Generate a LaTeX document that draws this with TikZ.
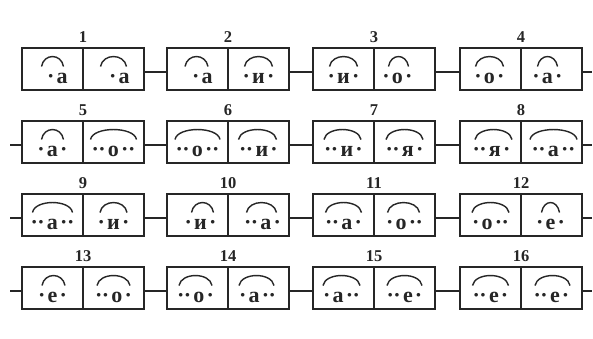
\documentclass[tikz,border=0pt]{standalone}
\usepackage{fontspec}
\setmainfont{Liberation Serif}
\definecolor{ink}{gray}{0.15}
\tikzset{
  cellbox/.style={draw=ink, line width=1.3pt, rectangle, minimum width=61pt, minimum height=42pt, inner sep=0pt, outer sep=0pt},
  numlbl/.style={font=\fontsize{16.5}{16.5}\selectfont\bfseries, text=ink, inner sep=0pt},
  lett/.style={font=\fontsize{22}{22}\selectfont\bfseries, text=ink, inner sep=0pt},
  arcline/.style={draw=ink, line width=1.4pt},
  conn/.style={draw=ink, line width=1.3pt}
}
\newcommand\dt{\makebox[6.8pt]{·}}
\newcommand\dd[1]{\ifcase#1\or\dt\or\dt\dt\or\dt\dt\dt\fi}
\newcommand\syl[3]{\dd{#1}\ifnum#1>0 \kern2.5pt\fi#2\ifnum#3>0 \kern2.5pt\fi\dd{#3}}
\newcommand\mkbox[4]{%
  \node[cellbox, anchor=north west] (#1a) at (#2,#3) {};
  \node[cellbox, anchor=north west] (#1b) at (#1a.north east) {};
  \node[numlbl] (#1n) at ([yshift=11pt]#1a.north east) {#4};
}
% #1 cell, #2 dots left, #3 letter, #4 dots right, #5 text dx, #6 arc width, #7 arc dx
\newcommand\mkcell[7]{%
  \node[lett, anchor=base] (#1t) at ([xshift=#5pt, yshift=-14pt]#1.center) {\syl{#2}{#3}{#4}};
  \draw[arcline] ([xshift=#7pt-#6pt/2, yshift=2.5pt]#1.center) .. controls +(80:13.5pt) and +(100:13.5pt) .. ([xshift=#7pt+#6pt/2, yshift=2.5pt]#1.center);
}
\begin{document}
\begin{tikzpicture}[x=1pt,y=-1pt]
\useasboundingbox[fill=white] (0,0) rectangle (593,338);
% boxes
\mkbox{b1}{22}{48}{1}\mkbox{b2}{167}{48}{2}\mkbox{b3}{313}{48}{3}\mkbox{b4}{460}{48}{4}
\mkbox{b5}{22}{121}{5}\mkbox{b6}{167}{121}{6}\mkbox{b7}{313}{121}{7}\mkbox{b8}{460}{121}{8}
\mkbox{b9}{22}{194}{9}\mkbox{b10}{167}{194}{10}\mkbox{b11}{313}{194}{11}\mkbox{b12}{460}{194}{12}
\mkbox{b13}{22}{267}{13}\mkbox{b14}{167}{267}{14}\mkbox{b15}{313}{267}{15}\mkbox{b16}{460}{267}{16}
% cells
\mkcell{b1a}{1}{а}{0}{5}{22}{0}
\mkcell{b1b}{1}{а}{0}{6}{26}{0}
\mkcell{b2a}{1}{а}{0}{5}{23}{-1}
\mkcell{b2b}{1}{и}{1}{0}{28}{0}
\mkcell{b3a}{1}{и}{1}{0}{28}{0}
\mkcell{b3b}{1}{о}{1}{-7}{20}{-6}
\mkcell{b4a}{1}{о}{1}{-1}{28}{-1}
\mkcell{b4b}{1}{а}{1}{-4}{20}{-4}
\mkcell{b5a}{1}{а}{1}{0}{22}{0}
\mkcell{b5b}{2}{о}{2}{0}{46}{0}
\mkcell{b6a}{2}{о}{2}{0}{45}{0}
\mkcell{b6b}{2}{и}{1}{0}{38}{-1}
\mkcell{b7a}{2}{и}{1}{0}{37}{-1}
\mkcell{b7b}{2}{я}{1}{0}{37}{0}
\mkcell{b8a}{2}{я}{1}{1}{37}{3}
\mkcell{b8b}{2}{а}{2}{2}{47}{2}
\mkcell{b9a}{2}{а}{2}{0}{40}{0}
\mkcell{b9b}{1}{и}{1}{0}{27}{0}
\mkcell{b10a}{1}{и}{1}{3}{22}{5}
\mkcell{b10b}{2}{а}{1}{4}{30}{3}
\mkcell{b11a}{2}{а}{1}{0}{36}{0}
\mkcell{b11b}{1}{о}{2}{0}{32}{-1}
\mkcell{b12a}{1}{о}{2}{0}{37}{0}
\mkcell{b12b}{1}{е}{1}{-1}{18}{-1}
\mkcell{b13a}{1}{е}{1}{0}{23}{1}
\mkcell{b13b}{2}{о}{1}{0}{33}{0}
\mkcell{b14a}{2}{о}{1}{-2}{33}{-2}
\mkcell{b14b}{1}{а}{2}{-1}{35}{-2}
\mkcell{b15a}{1}{а}{2}{-2}{37}{-2}
\mkcell{b15b}{2}{е}{1}{0}{35}{0}
\mkcell{b16a}{2}{е}{1}{0}{36}{0}
\mkcell{b16b}{2}{е}{1}{0}{35}{1}
% free ends of connectors
\path ([yshift=-3pt]b4b.east) ++(10,0) coordinate (r1e);
\path ([yshift=-3pt]b8b.east) ++(10,0) coordinate (r2e);
\path ([yshift=-3pt]b12b.east) ++(10,0) coordinate (r3e);
\path ([yshift=-3pt]b16b.east) ++(10,0) coordinate (r4e);
\path ([yshift=-3pt]b5a.west) ++(-12,0) coordinate (r2s);
\path ([yshift=-3pt]b9a.west) ++(-12,0) coordinate (r3s);
\path ([yshift=-3pt]b13a.west) ++(-12,0) coordinate (r4s);
% connectors
\draw[conn] ([yshift=-3pt]b1b.east) -- ([yshift=-3pt]b2a.west);
\draw[conn] ([yshift=-3pt]b2b.east) -- ([yshift=-3pt]b3a.west);
\draw[conn] ([yshift=-3pt]b3b.east) -- ([yshift=-3pt]b4a.west);
\draw[conn] ([yshift=-3pt]b4b.east) -- (r1e);
\draw[conn] (r2s) -- ([yshift=-3pt]b5a.west);
\draw[conn] ([yshift=-3pt]b5b.east) -- ([yshift=-3pt]b6a.west);
\draw[conn] ([yshift=-3pt]b6b.east) -- ([yshift=-3pt]b7a.west);
\draw[conn] ([yshift=-3pt]b7b.east) -- ([yshift=-3pt]b8a.west);
\draw[conn] ([yshift=-3pt]b8b.east) -- (r2e);
\draw[conn] (r3s) -- ([yshift=-3pt]b9a.west);
\draw[conn] ([yshift=-3pt]b9b.east) -- ([yshift=-3pt]b10a.west);
\draw[conn] ([yshift=-3pt]b10b.east) -- ([yshift=-3pt]b11a.west);
\draw[conn] ([yshift=-3pt]b11b.east) -- ([yshift=-3pt]b12a.west);
\draw[conn] ([yshift=-3pt]b12b.east) -- (r3e);
\draw[conn] (r4s) -- ([yshift=-3pt]b13a.west);
\draw[conn] ([yshift=-3pt]b13b.east) -- ([yshift=-3pt]b14a.west);
\draw[conn] ([yshift=-3pt]b14b.east) -- ([yshift=-3pt]b15a.west);
\draw[conn] ([yshift=-3pt]b15b.east) -- ([yshift=-3pt]b16a.west);
\draw[conn] ([yshift=-3pt]b16b.east) -- (r4e);
\end{tikzpicture}
\end{document}
